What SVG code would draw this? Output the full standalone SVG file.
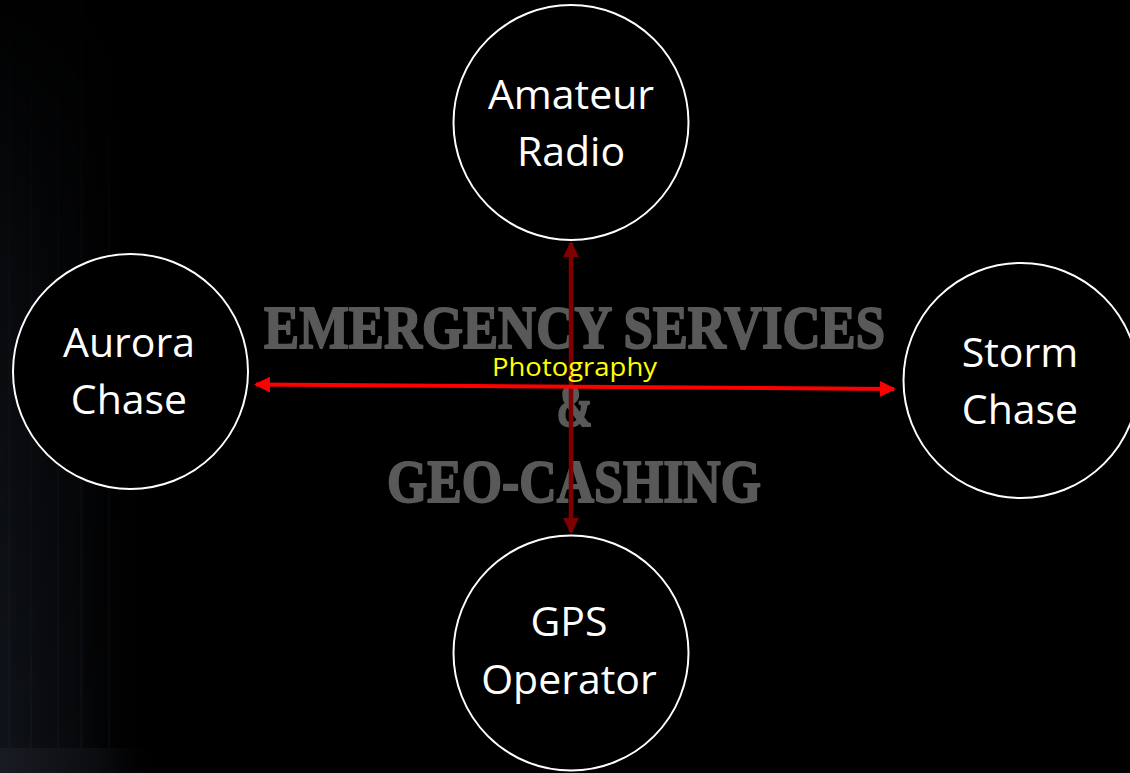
<svg xmlns="http://www.w3.org/2000/svg" width="1130" height="773" viewBox="0 0 1130 773">
  <style>
    .node circle { fill: #000; stroke: #fff; stroke-width: 2; }
    .node text { font-family: "Open Sans", "DejaVu Sans", sans-serif; font-size: 41px; fill: #fff; text-anchor: middle; }
    .title { font-family: "Liberation Serif", "DejaVu Serif", serif; font-weight: bold; font-size: 62px; fill: #595959; stroke: #595959; stroke-width: 2; stroke-linejoin: round; text-anchor: middle; }
    .label { font-family: "Open Sans", "DejaVu Sans", sans-serif; font-size: 25px; fill: #ffff00; text-anchor: middle; }
  </style>
  <defs>
    <linearGradient id="leftGlow" x1="0" y1="0" x2="1" y2="0">
      <stop offset="0" stop-color="#10141a" stop-opacity="1"/>
      <stop offset="0.5" stop-color="#090b0f" stop-opacity="0.8"/>
      <stop offset="1" stop-color="#000" stop-opacity="0"/>
    </linearGradient>
    <linearGradient id="vfade" x1="0" y1="0" x2="0" y2="1">
      <stop offset="0" stop-color="#fff" stop-opacity="0.05"/>
      <stop offset="0.35" stop-color="#fff" stop-opacity="0.5"/>
      <stop offset="1" stop-color="#fff" stop-opacity="1"/>
    </linearGradient>
    <mask id="fadeMask">
      <rect x="0" y="0" width="160" height="773" fill="url(#vfade)"/>
    </mask>
    <linearGradient id="bottomStrip" x1="0" y1="0" x2="1" y2="0">
      <stop offset="0" stop-color="#181b21"/>
      <stop offset="0.6" stop-color="#0b0d10"/>
      <stop offset="1" stop-color="#000" stop-opacity="0"/>
    </linearGradient>
    <marker id="redHead" viewBox="0 0 16 16" refX="14" refY="8" markerUnits="userSpaceOnUse" markerWidth="16" markerHeight="16" orient="auto-start-reverse">
      <path d="M0,0 L16,8 L0,16 Z" fill="#ff0000"/>
    </marker>
    <marker id="darkHead" viewBox="0 0 16 16" refX="14" refY="8" markerUnits="userSpaceOnUse" markerWidth="16" markerHeight="16" orient="auto-start-reverse">
      <path d="M0,0 L16,8 L0,16 Z" fill="#7f0000"/>
    </marker>
  </defs>

  <rect x="0" y="0" width="1130" height="773" fill="#000"/>
  <g id="background-streaks" mask="url(#fadeMask)">
    <rect x="0" y="0" width="150" height="773" fill="url(#leftGlow)"/>
    <rect x="8" y="0" width="3" height="773" fill="#161b22" opacity="0.6"/>
    <rect x="30" y="0" width="2" height="773" fill="#141920" opacity="0.6"/>
    <rect x="57" y="0" width="2" height="773" fill="#12161c" opacity="0.6"/>
    <rect x="80" y="0" width="3" height="773" fill="#0f1217" opacity="0.6"/>
    <rect x="108" y="0" width="2" height="773" fill="#0c0f13" opacity="0.6"/>
  </g>
  <rect x="0" y="748" width="160" height="25" fill="url(#bottomStrip)"/>

  <g id="title">
    <text class="title" x="574.5" y="348" textLength="621" lengthAdjust="spacingAndGlyphs">EMERGENCY SERVICES</text>
    <text class="title" x="574.5" y="426" textLength="36" lengthAdjust="spacingAndGlyphs">&amp;</text>
    <text class="title" x="574" y="502" textLength="374" lengthAdjust="spacingAndGlyphs">GEO-CASHING</text>
  </g>

  <g id="connectors">
    <line x1="571" y1="532" x2="571" y2="243" stroke="#7f0000" stroke-width="4.5" marker-start="url(#darkHead)" marker-end="url(#darkHead)"/>
    <line x1="256" y1="384.5" x2="894" y2="389" stroke="#ff0000" stroke-width="4" marker-start="url(#redHead)" marker-end="url(#redHead)"/>
    <text class="label" x="574.5" y="376" textLength="165" lengthAdjust="spacingAndGlyphs">Photography</text>
  </g>

  <g id="node-amateur-radio" class="node">
    <circle cx="571" cy="122.5" r="117.5"/>
    <text x="571" y="109">Amateur</text>
    <text x="571" y="166">Radio</text>
  </g>
  <g id="node-aurora-chase" class="node">
    <circle cx="130.5" cy="371.5" r="117.5"/>
    <text x="129" y="357">Aurora</text>
    <text x="129" y="414">Chase</text>
  </g>
  <g id="node-storm-chase" class="node">
    <circle cx="1021" cy="380.5" r="117.5"/>
    <text x="1020" y="367">Storm</text>
    <text x="1020" y="424">Chase</text>
  </g>
  <g id="node-gps-operator" class="node">
    <circle cx="571" cy="653" r="117.5"/>
    <text x="569" y="636">GPS</text>
    <text x="569" y="694">Operator</text>
  </g>
</svg>
